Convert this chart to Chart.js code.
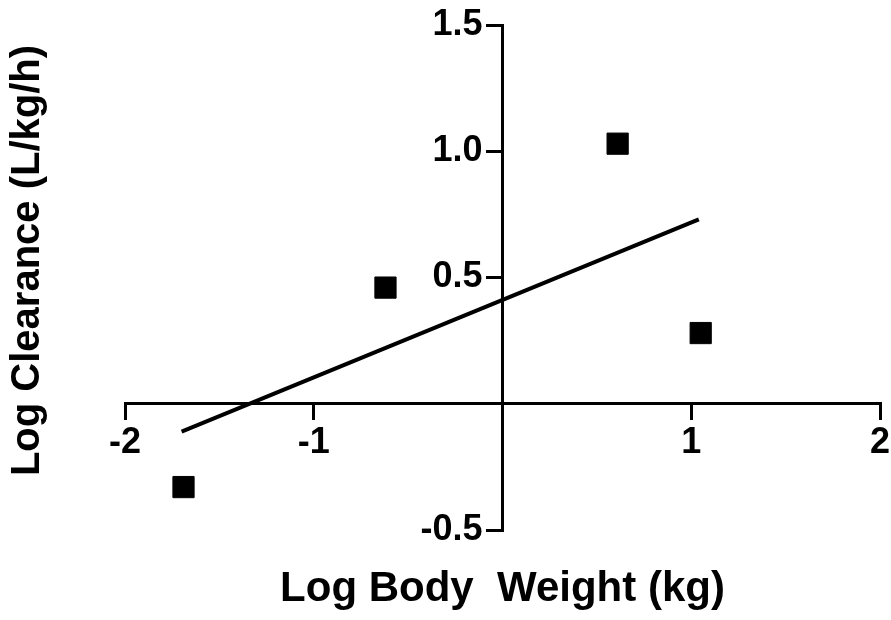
<!DOCTYPE html>
<html>
<head>
<meta charset="utf-8">
<script src="https://cdn.jsdelivr.net/npm/chart.js@4/dist/chart.umd.min.js"></script>
<style>
  html, body { margin: 0; padding: 0; background: #fff; overflow: hidden; }
  #wrap { width: 891px; height: 620px; overflow: hidden; }
</style>
</head>
<body>
<div id="wrap"><canvas id="myChart" width="896" height="620"></canvas></div>
<script>
// values (log units)
const bodyWeight = [-1.69, -0.62, 0.61, 1.05];
const clearance = [-0.33, 0.46, 1.03, 0.28];
const fitX = [-1.70, 1.04];
const fitY = [-0.11, 0.73];
const xTicks = [-2, -1, 1, 2];
const yTicks = [-0.5, 0.5, 1.0, 1.5];

const xTitle = 'Log Body  Weight (kg)';
const yTitle = 'Log Clearance (L/kg/h)';

const tickFont = { family: 'Liberation Sans', size: 36, weight: 'bold' };

const points = bodyWeight.map((x, i) => ({ x: x, y: clearance[i] }));
const fitLine = fitX.map((x, i) => ({ x: x, y: fitY[i] }));

const axisGrid = {
    display: true,
    drawOnChartArea: false,
    drawTicks: true,
    tickLength: 15,
    lineWidth: 3,
    color: '#000'
}

// y title sits a bit higher than the middle of the plot in the original
const shiftTitle = {
    id: 'shiftTitle',
    afterLayout(chart) {
        const s = chart.scales.yt;
        s.top -= 17;
        s.bottom -= 17;
    }
}

const ctx = document.getElementById('myChart').getContext('2d');

// the big square markers reserve ~16px on the right, so the canvas is a bit wider than the window
const myChart = new Chart(ctx, {
    type: 'scatter',
    data: {
        datasets: [{
            label: 'data',
            data: points,
            pointStyle: 'rect',
            pointRadius: 15,
            backgroundColor: '#000',
            borderColor: '#000',
            borderWidth: 1,
            showLine: false
        }, {
            label: 'fit',
            data: fitLine,
            showLine: true,
            pointRadius: 0,
            borderColor: '#000',
            borderWidth: 4,
            fill: false
        }]
    },
    options: {
        responsive: false,
        animation: false,
        layout: { padding: { top: 25, right: 0, left: 0, bottom: 0 } },
        plugins: {
            legend: { display: false },
            tooltip: { enabled: false }
        },
        scales: {
            x: {
                type: 'linear',
                position: { y: 0 },
                min: -2,
                max: 2,
                afterBuildTicks: (s) => { s.ticks = xTicks.map(v => ({ value: v })); },
                afterFit: (s) => { s.paddingLeft = 0; s.paddingRight = 0; },
                ticks: {
                    color: '#000',
                    font: tickFont,
                    padding: 3,
                    maxRotation: 0,
                    callback: (v) => String(v)
                },
                grid: axisGrid,
                border: { display: true, color: '#000', width: 3 }
            },
            y: {
                type: 'linear',
                position: { x: 0 },
                min: -0.5,
                max: 1.5,
                afterBuildTicks: (s) => { s.ticks = yTicks.map(v => ({ value: v })); },
                ticks: {
                    color: '#000',
                    font: tickFont,
                    // labels are right-aligned on the axis line, the spaces keep them off the tick marks
                    callback: (v) => Number(v).toFixed(1) + '  '
                },
                grid: axisGrid,
                border: { display: true, color: '#000', width: 3 }
            },
            xt: {
                type: 'linear',
                position: 'bottom',
                grid: { display: false },
                border: { display: false },
                ticks: { display: false },
                afterFit: (s) => { s.height = 90; },
                title: {
                    display: true,
                    text: xTitle,
                    color: '#000',
                    font: { family: 'Liberation Sans', size: 42, weight: 'bold' },
                    padding: { top: 0, bottom: 5 }
                }
            },
            yt: {
                type: 'linear',
                position: 'left',
                grid: { display: false },
                border: { display: false },
                ticks: { display: false },
                afterFit: (s) => { s.width = 125; },
                title: {
                    display: true,
                    text: yTitle,
                    color: '#000',
                    font: { family: 'Liberation Sans', size: 40, weight: 'bold' },
                    padding: { top: 4, bottom: 0 }
                }
            }
        }
    },
    plugins: [shiftTitle]
});
</script>
</body>
</html>
